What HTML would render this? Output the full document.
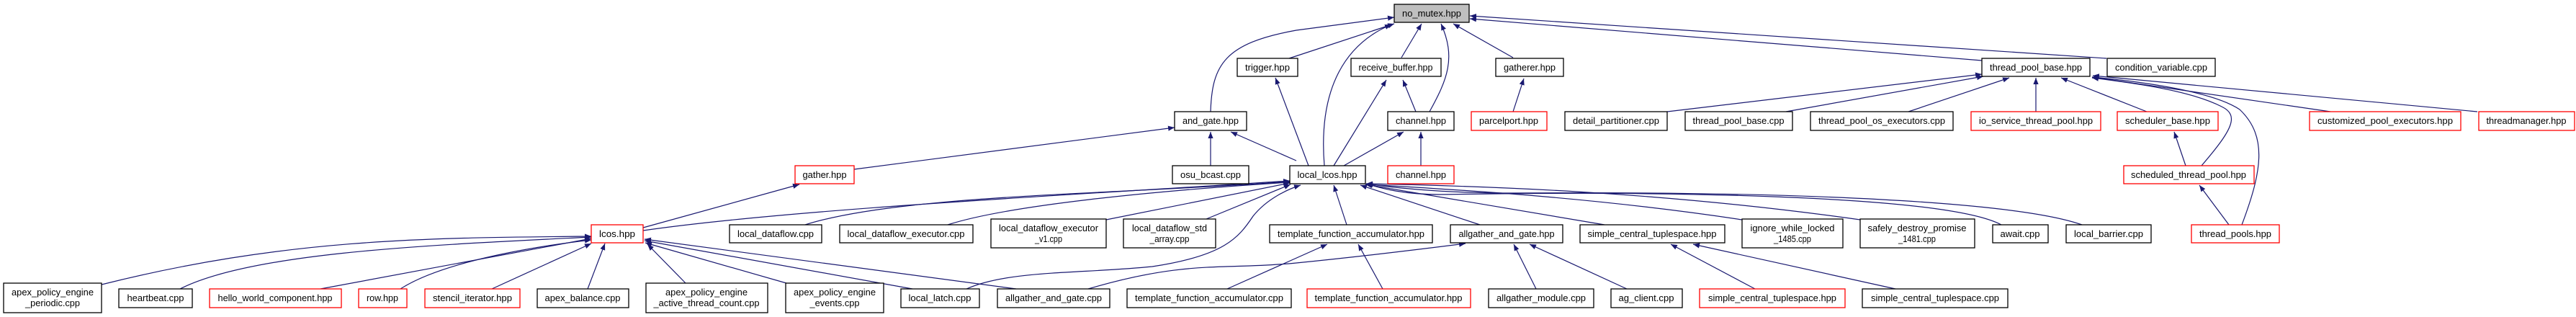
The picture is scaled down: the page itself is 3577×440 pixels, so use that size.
<!DOCTYPE html>
<html><head><meta charset="utf-8"><style>
html,body{margin:0;padding:0;background:#fff;}
svg{display:block;}
text{font-family:"Liberation Sans",sans-serif;font-size:13px;fill:#000;}
</style></head><body>
<svg width="3577" height="440" viewBox="0 0 3577 440" xmlns="http://www.w3.org/2000/svg">
<defs>
<marker id="a" viewBox="0 0 10 10" refX="10" refY="5" markerWidth="9" markerHeight="9" markerUnits="userSpaceOnUse" orient="auto">
<path d="M0,1 L10,5 L0,9 z" fill="#191970"/>
</marker>
</defs>
<g fill="none" stroke="#191970" stroke-width="1.2" marker-end="url(#a)">
<!-- into no_mutex -->
<path d="M1681,155 C1683,90 1700,60 1800,42 L1936,24"/>
<path d="M1790,81 L1936,33"/>
<path d="M1839,230 C1830,120 1870,60 1932,34"/>
<path d="M1946,80 L1974,33"/>
<path d="M1985,155 C2010,110 2022,80 2001,33"/>
<path d="M2101,80 L2018,33"/>
<path d="M2752,84 L2041,26"/>
<path d="M2925,81 L2041,22"/>
<!-- trigger -->
<path d="M1817,230 L1771,108"/>
<!-- receive_buffer -->
<path d="M1852,230 L1925,111"/>
<path d="M1966,155 L1948,111"/>
<!-- channel -->
<path d="M1866,230 L1949,183"/>
<path d="M1973,230 L1973,183"/>
<!-- gatherer -->
<path d="M2101,155 L2116,109"/>
<!-- and_gate -->
<path d="M1186,235 L1631,177"/>
<path d="M1681,230 L1681,183"/>
<path d="M1800,223 L1709,183"/>
<!-- gather -->
<path d="M893,316 L1110,256"/>
<!-- into local_lcos -->
<path d="M893,320 C1100,290 1500,270 1791,251"/>
<path d="M1118,312 C1250,270 1550,270 1791,252"/>
<path d="M1316,312 C1400,285 1600,265 1791,253"/>
<path d="M1536,305 L1791,254"/>
<path d="M1675,304 L1792,256"/>
<path d="M1342,401 C1400,375 1500,380 1600,370 C1700,355 1720,330 1740,300 C1760,275 1790,262 1806,257"/>
<path d="M1870,312 L1852,257"/>
<path d="M2055,312 L1889,257"/>
<path d="M2228,312 L1896,256"/>
<path d="M2419,305 C2200,272 2000,262 1897,256"/>
<path d="M2583,305 C2300,265 2050,258 1897,255"/>
<path d="M2779,312 C2700,270 2300,265 2000,270 C1950,270 1920,262 1897,255"/>
<path d="M2891,312 C2800,280 2500,265 2100,268 C2000,268 1930,260 1897,255"/>
<!-- into lcos -->
<path d="M141,395 C400,330 600,330 821,328"/>
<path d="M250,401 C350,350 600,340 821,329"/>
<path d="M445,401 L821,331"/>
<path d="M556,401 C620,360 760,340 821,333"/>
<path d="M683,401 L821,338"/>
<path d="M816,401 L840,338"/>
<path d="M952,393 L899,339"/>
<path d="M1092,393 L896,337"/>
<path d="M1267,401 L895,334"/>
<path d="M1411,401 L895,332"/>
<!-- into allgather_and_gate.hpp -->
<path d="M1511,401 C1650,360 1700,375 1800,365 C1900,355 1980,345 2035,338"/>
<path d="M2133,401 L2102,339"/>
<path d="M2259,401 L2124,339"/>
<!-- template_function_accumulator.hpp -->
<path d="M1704,401 L1843,339"/>
<path d="M1920,401 L1886,339"/>
<!-- simple_central_tuplespace.hpp -->
<path d="M2437,401 L2320,339"/>
<path d="M2632,401 L2351,339"/>
<!-- thread_pool_base.hpp -->
<path d="M2315,155 L2752,103"/>
<path d="M2480,155 L2754,106"/>
<path d="M2650,155 L2790,108"/>
<path d="M2827,155 L2827,108"/>
<path d="M2981,155 L2862,108"/>
<path d="M3057,230 C3100,180 3110,160 3085,148 C3040,125 2960,115 2905,108"/>
<path d="M3113,312 C3140,240 3150,190 3110,152 C3070,125 2960,112 2905,107"/>
<path d="M3236,155 L2905,107"/>
<path d="M3440,155 L2906,105"/>
<!-- scheduler_base / scheduled -->
<path d="M3035,230 L3019,183"/>
<path d="M3095,312 L3054,257"/>
</g>
<g stroke-width="1.3" fill="#fff">
<rect x="1936" y="6" width="104" height="25" fill="#bfbfbf" stroke="#000"/>
<rect x="1718" y="81" width="84" height="25" stroke="#000"/>
<rect x="1876" y="81" width="125" height="25" stroke="#000"/>
<rect x="2077" y="81" width="94" height="25" stroke="#000"/>
<rect x="2752" y="81" width="150" height="25" stroke="#000"/>
<rect x="2926" y="81" width="150" height="25" stroke="#000"/>
<rect x="1631" y="155" width="100" height="26" stroke="#000"/>
<rect x="1927" y="155" width="92" height="26" stroke="#000"/>
<rect x="2043" y="155" width="105" height="26" stroke="#f00"/>
<rect x="2173" y="155" width="142" height="26" stroke="#000"/>
<rect x="2340" y="155" width="149" height="26" stroke="#000"/>
<rect x="2514" y="155" width="198" height="26" stroke="#000"/>
<rect x="2737" y="155" width="180" height="26" stroke="#f00"/>
<rect x="2940" y="155" width="140" height="26" stroke="#f00"/>
<rect x="3207" y="155" width="210" height="26" stroke="#f00"/>
<rect x="3442" y="155" width="133" height="26" stroke="#f00"/>
<rect x="1104" y="230" width="82" height="25" stroke="#f00"/>
<rect x="1628" y="230" width="106" height="25" stroke="#000"/>
<rect x="1791" y="230" width="105" height="25" stroke="#000"/>
<rect x="1927" y="230" width="92" height="25" stroke="#f00"/>
<rect x="2949" y="230" width="181" height="25" stroke="#f00"/>
<rect x="821" y="312" width="72" height="25" stroke="#f00"/>
<rect x="1013" y="312" width="128" height="25" stroke="#000"/>
<rect x="1166" y="312" width="185" height="25" stroke="#000"/>
<rect x="1376" y="304" width="160" height="40" stroke="#000"/>
<rect x="1560" y="304" width="128" height="40" stroke="#000"/>
<rect x="1763" y="312" width="226" height="25" stroke="#000"/>
<rect x="2014" y="312" width="156" height="25" stroke="#000"/>
<rect x="2194" y="312" width="201" height="25" stroke="#000"/>
<rect x="2419" y="304" width="140" height="40" stroke="#000"/>
<rect x="2583" y="304" width="159" height="40" stroke="#000"/>
<rect x="2767" y="312" width="77" height="25" stroke="#000"/>
<rect x="2869" y="312" width="118" height="25" stroke="#000"/>
<rect x="3043" y="312" width="122" height="25" stroke="#f00"/>
<rect x="5" y="393" width="136" height="41" stroke="#000"/>
<rect x="165" y="401" width="102" height="26" stroke="#000"/>
<rect x="291" y="401" width="183" height="26" stroke="#f00"/>
<rect x="498" y="401" width="67" height="26" stroke="#f00"/>
<rect x="590" y="401" width="132" height="26" stroke="#f00"/>
<rect x="746" y="401" width="127" height="26" stroke="#000"/>
<rect x="897" y="393" width="169" height="41" stroke="#000"/>
<rect x="1091" y="393" width="136" height="41" stroke="#000"/>
<rect x="1251" y="401" width="109" height="26" stroke="#000"/>
<rect x="1385" y="401" width="156" height="26" stroke="#000"/>
<rect x="1565" y="401" width="228" height="26" stroke="#000"/>
<rect x="1815" y="401" width="227" height="26" stroke="#f00"/>
<rect x="2067" y="401" width="146" height="26" stroke="#000"/>
<rect x="2237" y="401" width="99" height="26" stroke="#000"/>
<rect x="2360" y="401" width="202" height="26" stroke="#f00"/>
<rect x="2586" y="401" width="202" height="26" stroke="#000"/>
</g>
<g text-anchor="middle" lengthAdjust="spacingAndGlyphs">
<text x="1988" y="23" textLength="82" lengthAdjust="spacingAndGlyphs">no_mutex.hpp</text>
<text x="1760" y="98" textLength="62" lengthAdjust="spacingAndGlyphs">trigger.hpp</text>
<text x="1938" y="98" textLength="103" lengthAdjust="spacingAndGlyphs">receive_buffer.hpp</text>
<text x="2124" y="98" textLength="72" lengthAdjust="spacingAndGlyphs">gatherer.hpp</text>
<text x="2827" y="98" textLength="128" lengthAdjust="spacingAndGlyphs">thread_pool_base.hpp</text>
<text x="3001" y="98" textLength="128" lengthAdjust="spacingAndGlyphs">condition_variable.cpp</text>
<text x="1681" y="172" textLength="78" lengthAdjust="spacingAndGlyphs">and_gate.hpp</text>
<text x="1973" y="172" textLength="70" lengthAdjust="spacingAndGlyphs">channel.hpp</text>
<text x="2095" y="172" textLength="82" lengthAdjust="spacingAndGlyphs">parcelport.hpp</text>
<text x="2244" y="172" textLength="120" lengthAdjust="spacingAndGlyphs">detail_partitioner.cpp</text>
<text x="2414" y="172" textLength="127" lengthAdjust="spacingAndGlyphs">thread_pool_base.cpp</text>
<text x="2613" y="172" textLength="176" lengthAdjust="spacingAndGlyphs">thread_pool_os_executors.cpp</text>
<text x="2827" y="172" textLength="158" lengthAdjust="spacingAndGlyphs">io_service_thread_pool.hpp</text>
<text x="3010" y="172" textLength="118" lengthAdjust="spacingAndGlyphs">scheduler_base.hpp</text>
<text x="3312" y="172" textLength="188" lengthAdjust="spacingAndGlyphs">customized_pool_executors.hpp</text>
<text x="3508" y="172" textLength="111" lengthAdjust="spacingAndGlyphs">threadmanager.hpp</text>
<text x="1145" y="247" textLength="61" lengthAdjust="spacingAndGlyphs">gather.hpp</text>
<text x="1681" y="247" textLength="84" lengthAdjust="spacingAndGlyphs">osu_bcast.cpp</text>
<text x="1843" y="247" textLength="83" lengthAdjust="spacingAndGlyphs">local_lcos.hpp</text>
<text x="1973" y="247" textLength="70" lengthAdjust="spacingAndGlyphs">channel.hpp</text>
<text x="3039" y="247" textLength="160" lengthAdjust="spacingAndGlyphs">scheduled_thread_pool.hpp</text>
<text x="857" y="329" textLength="50" lengthAdjust="spacingAndGlyphs">lcos.hpp</text>
<text x="1077" y="329" textLength="106" lengthAdjust="spacingAndGlyphs">local_dataflow.cpp</text>
<text x="1258" y="329" textLength="163" lengthAdjust="spacingAndGlyphs">local_dataflow_executor.cpp</text>
<text x="1456" y="321" textLength="138" lengthAdjust="spacingAndGlyphs">local_dataflow_executor</text>
<text x="1456" y="336" textLength="38" lengthAdjust="spacingAndGlyphs">_v1.cpp</text>
<text x="1624" y="321" textLength="104" lengthAdjust="spacingAndGlyphs">local_dataflow_std</text>
<text x="1624" y="336" textLength="55" lengthAdjust="spacingAndGlyphs">_array.cpp</text>
<text x="1876" y="329" textLength="204" lengthAdjust="spacingAndGlyphs">template_function_accumulator.hpp</text>
<text x="2092" y="329" textLength="133" lengthAdjust="spacingAndGlyphs">allgather_and_gate.hpp</text>
<text x="2294" y="329" textLength="179" lengthAdjust="spacingAndGlyphs">simple_central_tuplespace.hpp</text>
<text x="2489" y="321" textLength="117" lengthAdjust="spacingAndGlyphs">ignore_while_locked</text>
<text x="2489" y="336" textLength="52" lengthAdjust="spacingAndGlyphs">_1485.cpp</text>
<text x="2662" y="321" textLength="137" lengthAdjust="spacingAndGlyphs">safely_destroy_promise</text>
<text x="2662" y="336" textLength="52" lengthAdjust="spacingAndGlyphs">_1481.cpp</text>
<text x="2805" y="329" textLength="55" lengthAdjust="spacingAndGlyphs">await.cpp</text>
<text x="2928" y="329" textLength="96" lengthAdjust="spacingAndGlyphs">local_barrier.cpp</text>
<text x="3104" y="329" textLength="100" lengthAdjust="spacingAndGlyphs">thread_pools.hpp</text>
<text x="73" y="410" textLength="114" lengthAdjust="spacingAndGlyphs">apex_policy_engine</text>
<text x="73" y="425" textLength="76" lengthAdjust="spacingAndGlyphs">_periodic.cpp</text>
<text x="216" y="418" textLength="79" lengthAdjust="spacingAndGlyphs">heartbeat.cpp</text>
<text x="382" y="418" textLength="159" lengthAdjust="spacingAndGlyphs">hello_world_component.hpp</text>
<text x="531" y="418" textLength="44" lengthAdjust="spacingAndGlyphs">row.hpp</text>
<text x="656" y="418" textLength="110" lengthAdjust="spacingAndGlyphs">stencil_iterator.hpp</text>
<text x="809" y="418" textLength="105" lengthAdjust="spacingAndGlyphs">apex_balance.cpp</text>
<text x="981" y="410" textLength="114" lengthAdjust="spacingAndGlyphs">apex_policy_engine</text>
<text x="981" y="425" textLength="147" lengthAdjust="spacingAndGlyphs">_active_thread_count.cpp</text>
<text x="1159" y="410" textLength="114" lengthAdjust="spacingAndGlyphs">apex_policy_engine</text>
<text x="1159" y="425" textLength="69" lengthAdjust="spacingAndGlyphs">_events.cpp</text>
<text x="1305" y="418" textLength="87" lengthAdjust="spacingAndGlyphs">local_latch.cpp</text>
<text x="1463" y="418" textLength="134" lengthAdjust="spacingAndGlyphs">allgather_and_gate.cpp</text>
<text x="1679" y="418" textLength="206" lengthAdjust="spacingAndGlyphs">template_function_accumulator.cpp</text>
<text x="1928" y="418" textLength="205" lengthAdjust="spacingAndGlyphs">template_function_accumulator.hpp</text>
<text x="2140" y="418" textLength="124" lengthAdjust="spacingAndGlyphs">allgather_module.cpp</text>
<text x="2286" y="418" textLength="77" lengthAdjust="spacingAndGlyphs">ag_client.cpp</text>
<text x="2461" y="418" textLength="178" lengthAdjust="spacingAndGlyphs">simple_central_tuplespace.hpp</text>
<text x="2687" y="418" textLength="178" lengthAdjust="spacingAndGlyphs">simple_central_tuplespace.cpp</text>
</g>
</svg>
</body></html>
